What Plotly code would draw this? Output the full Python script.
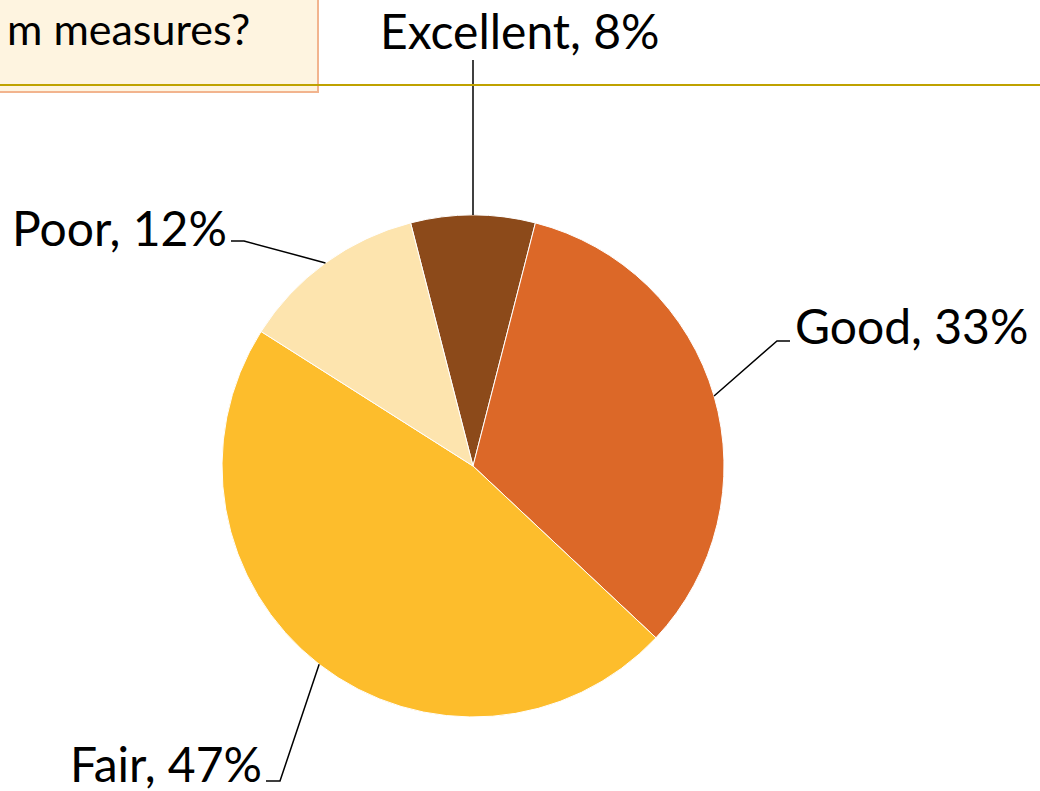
import math
import plotly.graph_objects as go

W, H = 1040, 791

labels = ["Excellent", "Good", "Fair", "Poor"]
values = [8, 33, 47, 12]
colors = ["#8C4A1A", "#DC6828", "#FDBD2C", "#FDE4AE"]

# pie placement in pixels
cx, cy, R = 473, 466, 251
rotation = -14.4
font = "Lato"
fsize = 48


def px(x):
    return x / W


def py(y):
    return 1 - y / H


fig = go.Figure(go.Pie(
    labels=labels, values=values, sort=False, direction="clockwise",
    rotation=rotation, textinfo="none", hoverinfo="label+percent",
    marker=dict(colors=colors, line=dict(color="white", width=1)),
    domain=dict(x=[px(cx - R), px(cx + R)], y=[py(cy + R), py(cy - R)]),
    showlegend=False,
))

# anchor points on the rim at each slice's mid angle
total = sum(values)
anchors = []
cum = 0
for v in values:
    a = math.radians(rotation + 360 * (cum + v / 2) / total)
    anchors.append((cx + R * math.sin(a), cy - R * math.cos(a)))
    cum += v

# label text position and elbow of the leader line (pixels)
label_pos = {
    "Excellent": dict(x=520, y=30, xanchor="center", elbow=None, end=(None, 60)),
    "Good": dict(x=793, y=325, xanchor="left", elbow=(777, 341), end=(790, 341)),
    "Fair": dict(x=264, y=763, xanchor="right", elbow=(280, 781), end=(266, 781)),
    "Poor": dict(x=229, y=228, xanchor="right", elbow=(244, 241), end=(231, 241)),
}

shapes = []
annotations = []
for lab, v, (ax, ay) in zip(labels, values, anchors):
    p = label_pos[lab]
    if p["elbow"] is None:
        path = f"M {px(ax)} {py(ay)} L {px(ax)} {py(p['end'][1])}"
    else:
        ex, ey = p["elbow"]
        tx, ty = p["end"]
        path = f"M {px(ax)} {py(ay)} L {px(ex)} {py(ey)} L {px(tx)} {py(ty)}"
    shapes.append(dict(type="path", xref="paper", yref="paper", path=path,
                       line=dict(color="black", width=1.5)))
    annotations.append(dict(text=f"{lab}, {v}%", x=px(p["x"]), y=py(p["y"]),
                            xref="paper", yref="paper", xanchor=p["xanchor"],
                            yanchor="middle", showarrow=False,
                            font=dict(family=font, size=fsize, color="black")))

# title box (cut off at the left) and the rule under it
shapes.insert(0, dict(type="rect", xref="paper", yref="paper",
                      x0=px(-20), x1=px(318), y0=py(92), y1=py(-20),
                      fillcolor="#FEF4E0", line=dict(color="#F2B48E", width=2),
                      layer="below"))
shapes.append(dict(type="line", xref="paper", yref="paper",
                   x0=0, x1=1, y0=py(85), y1=py(85),
                   line=dict(color="#BFA200", width=2)))
annotations.append(dict(text="m measures?", x=px(252), y=py(29), xref="paper",
                        yref="paper", xanchor="right", yanchor="middle",
                        showarrow=False,
                        font=dict(family=font, size=fsize - 5, color="black")))

fig.update_layout(
    width=W, height=H, margin=dict(l=0, r=0, t=0, b=0),
    paper_bgcolor="white", plot_bgcolor="white",
    shapes=shapes, annotations=annotations,
)

fig.write_html("out.html", config={"displayModeBar": False},
               post_script="document.body.style.margin='0';")
